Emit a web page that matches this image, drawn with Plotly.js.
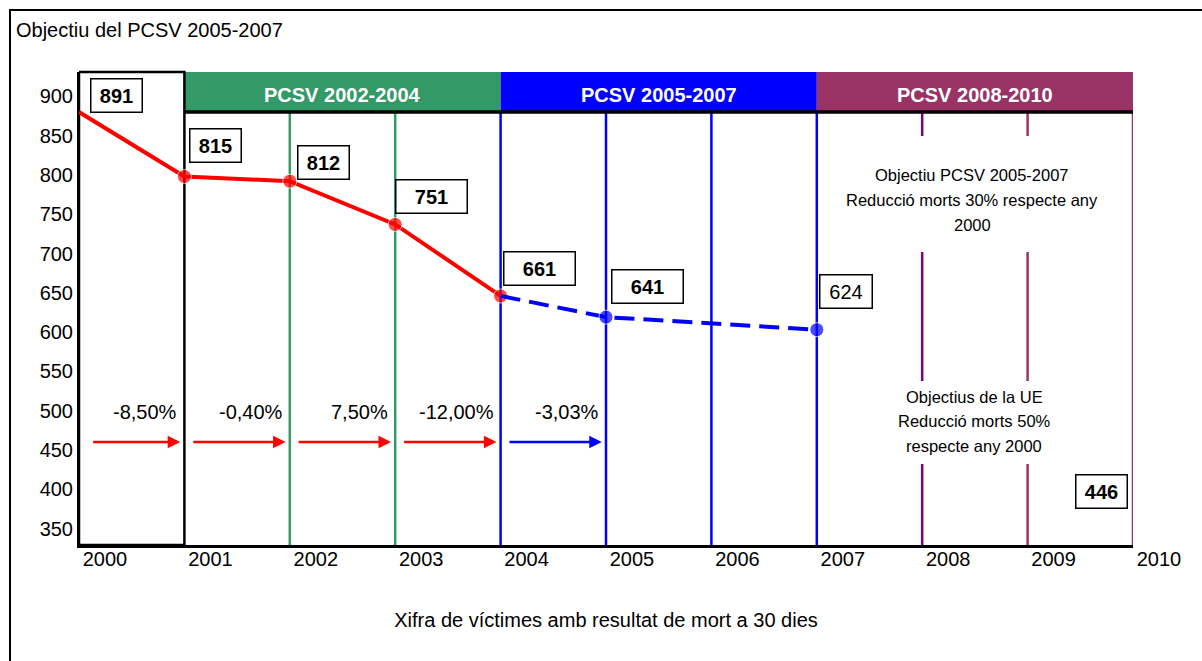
<!DOCTYPE html>
<html><head><meta charset="utf-8">
<script src="https://cdn.plot.ly/plotly-3.0.1.min.js"></script>
<style>html,body{margin:0;padding:0;background:#fff}#chart{width:1202px;height:661px}</style>
</head><body><div id="chart"></div>
<script>
// ---------- data ----------
const tickYears = [2000, 2001, 2002, 2003, 2004, 2005, 2006, 2007, 2008, 2009, 2010];
const tickLabels = ['2000', '2001', '2002', '2003', '2004', '2005', '2006', '2007', '2008', '2009', '2010'];
const yTicks = [350, 400, 450, 500, 550, 600, 650, 700, 750, 800, 850, 900];

const actualYears = [2000, 2001, 2002, 2003, 2004];
const actualValues = [880, 798, 792, 737, 646];
const targetYears = [2004, 2005, 2007];
const targetValues = [646, 619, 603];

const labelYears = [2000, 2001, 2002, 2003, 2004, 2005, 2007, 2010];
const labelTexts = ['891', '815', '812', '751', '661', '641', '624', '446'];

const pctYears = [2000, 2001, 2002, 2003, 2004];
const pctLabels = ['-8,50%', '-0,40%', '7,50%', '-12,00%', '-3,03%'];

const planNames = ['PCSV 2002-2004', 'PCSV 2005-2007', 'PCSV 2008-2010'];
const planStart = [2001, 2004, 2007];
const planEnd = [2004, 2007, 2010];

const goal1Lines = ['Objectiu PCSV 2005-2007', 'Reducció morts 30% respecte any', '2000'];
const goal2Lines = ['Objectius de la UE', 'Reducció morts 50%', 'respecte any 2000'];
const titleText = 'Objectiu del PCSV 2005-2007';
const xTitleText = 'Xifra de víctimes amb resultat de mort a 30 dies';

// ---------- styles ----------
const FONT = "'Liberation Sans', Arial, sans-serif";
const FS = 20;
const planColors = ['#339966', '#0000FF', '#993366'];
const gridYears = [2002, 2003, 2004, 2005, 2006, 2007, 2008, 2009, 2010];
const gridColors = ['#339966', '#339966', '#0000FF', '#0000FF', '#0000FF', '#0000FF', '#800080', '#993366', '#993366'];
const pctColors = ['#FF0000', '#FF0000', '#FF0000', '#FF0000', '#0000FF'];
const labelBold = [true, true, true, true, true, true, false, true];
const labelW = [52, 52, 52, 72, 72, 72, 53, 52];
const labelDX = [37, 31, 34, 36, 39, 41, 29, -32];
const labelDY = [17, 31, 19, 28, 27, 31, 38, -38];
const goal1Px = {x: 972, y: [175, 200, 225], mask: [136, 252]};
const goal2Px = {x: 974, y: [397, 421, 446], mask: [381, 464]};

const W = 1202, H = 661, ML = 79, MR = 69, MT = 72, MB = 116;
const PW = W - ML - MR, PH = H - MT - MB;
const px2paperX = p => (p - ML) / PW;
const px2paperY = p => (H - MB - p) / PH;
const HB = px2paperY(112);

function valueAt(year) {
  let i = targetYears.indexOf(year);
  if (i >= 0) return targetValues[i];
  i = actualYears.indexOf(year);
  if (i >= 0) return actualValues[i];
  return Number(labelTexts[labelYears.indexOf(year)]);
}

// ---------- traces ----------
const traces = [
  {
    x: actualYears, y: actualValues, type: 'scatter', mode: 'lines+markers',
    line: {color: '#FF0000', width: 4},
    marker: {color: '#FF0000', size: actualYears.map((y, i) => i === 0 ? 0 : 14)},
    hoverinfo: 'x+y', showlegend: false, cliponaxis: false
  },
  {
    x: targetYears, y: targetValues, type: 'scatter', mode: 'lines+markers',
    line: {color: '#0000FF', width: 4, dash: '20px,9px'},
    marker: {color: '#0000FF', size: targetYears.map((y, i) => i === 0 ? 0 : 14)},
    hoverinfo: 'x+y', showlegend: false, cliponaxis: false
  }
];

// ---------- shapes ----------
const shapes = [];
shapes.push({type: 'rect', xref: 'paper', yref: 'paper',
  x0: px2paperX(10), x1: px2paperX(1220), y0: px2paperY(680), y1: px2paperY(10),
  line: {color: '#000', width: 2}, fillcolor: 'rgba(0,0,0,0)', layer: 'below'});
planNames.forEach((n, i) => {
  shapes.push({type: 'rect', xref: 'x', yref: 'paper', x0: planStart[i], x1: planEnd[i],
    y0: HB, y1: 1, fillcolor: planColors[i], line: {width: 0}, layer: 'below'});
});
gridYears.forEach((yr, i) => {
  shapes.push({type: 'line', xref: 'x', yref: 'paper', x0: yr, x1: yr, y0: 0, y1: HB,
    line: {color: gridColors[i], width: 2.5}, layer: 'below'});
});
[goal1Px, goal2Px].forEach(g => {
  shapes.push({type: 'rect', xref: 'paper', yref: 'paper',
    x0: px2paperX(880), x1: px2paperX(1070), y0: px2paperY(g.mask[1]), y1: px2paperY(g.mask[0]),
    fillcolor: '#FFFFFF', line: {width: 0}, layer: 'below'});
});
shapes.push({type: 'line', xref: 'x', yref: 'paper', x0: 2001, x1: 2010, y0: HB, y1: HB,
  line: {color: '#000', width: 3.5}, layer: 'below'});
shapes.push({type: 'rect', xref: 'x', yref: 'paper', x0: 2000, x1: 2001, y0: 0, y1: 1,
  line: {color: '#000', width: 2.5}, fillcolor: 'rgba(0,0,0,0)', layer: 'below'});

// ---------- annotations ----------
const annotations = [];
planNames.forEach((n, i) => {
  annotations.push({xref: 'x', yref: 'paper', x: (planStart[i] + planEnd[i]) / 2, y: (HB + 1) / 2,
    xanchor: 'center', yanchor: 'middle', yshift: -3, text: '<b>' + n + '</b>', showarrow: false,
    font: {family: FONT, size: FS, color: '#FFFFFF'}});
});
labelTexts.forEach((t, i) => {
  annotations.push({xref: 'x', yref: 'y', x: labelYears[i], y: valueAt(labelYears[i]),
    xanchor: 'center', yanchor: 'middle',
    xshift: labelDX[i], yshift: labelDY[i],
    text: labelBold[i] ? '<b>' + t + '</b>' : t, showarrow: false,
    width: labelW[i] - 4, height: 30, borderpad: 1,
    bgcolor: '#FFFFFF', bordercolor: '#000000', borderwidth: 1.5,
    font: {family: FONT, size: FS, color: '#000'}});
});
pctLabels.forEach((t, i) => {
  annotations.push({xref: 'x', yref: 'y', x: pctYears[i] + 1, y: 498, xshift: -5,
    xanchor: 'right', yanchor: 'middle', text: t, showarrow: false,
    font: {family: FONT, size: FS, color: '#000'}});
  annotations.push({xref: 'x', yref: 'y', axref: 'x', ayref: 'y',
    x: pctYears[i] + 0.96, y: 460, ax: pctYears[i] + (i === 0 ? 0.12 : 0.07), ay: 460,
    text: '', showarrow: true, arrowhead: 2, arrowsize: 1, arrowwidth: 2.5,
    arrowcolor: pctColors[i], standoff: 0});
});
[[goal1Lines, goal1Px], [goal2Lines, goal2Px]].forEach(([lines, g]) => {
  lines.forEach((t, j) => {
    annotations.push({xref: 'paper', yref: 'paper', x: px2paperX(g.x), y: px2paperY(g.y[j]),
      xanchor: 'center', yanchor: 'middle', text: t, showarrow: false,
      font: {family: FONT, size: 16.5, color: '#000'}});
  });
});

const layout = {
  width: W, height: H,
  margin: {l: ML, r: MR, t: MT, b: MB},
  paper_bgcolor: '#FFFFFF', plot_bgcolor: '#FFFFFF',
  font: {family: FONT, size: FS, color: '#000'},
  title: {text: titleText, xref: 'container', yref: 'container', x: 16 / W, xanchor: 'left',
    y: 1 - 30 / H, yanchor: 'middle', font: {family: FONT, size: FS, color: '#000'}},
  xaxis: {range: [2000, 2010], tickvals: tickYears, ticktext: tickLabels, ticks: '',
    showgrid: false, zeroline: false, showline: true, linecolor: '#000', linewidth: 3,
    ticklabelshift: 26, ticklabelstandoff: -6, tickfont: {family: FONT, size: FS, color: '#000'},
    title: {text: xTitleText, standoff: 44, font: {family: FONT, size: FS, color: '#000'}}},
  yaxis: {range: [329, 931], tickvals: yTicks, ticks: '', showgrid: false, zeroline: false,
    showline: true, linecolor: '#000', linewidth: 2,
    tickfont: {family: FONT, size: FS, color: '#000'}},
  shapes: shapes, annotations: annotations, showlegend: false
};

Plotly.newPlot('chart', traces, layout, {displayModeBar: false, staticPlot: true});
</script></body></html>
